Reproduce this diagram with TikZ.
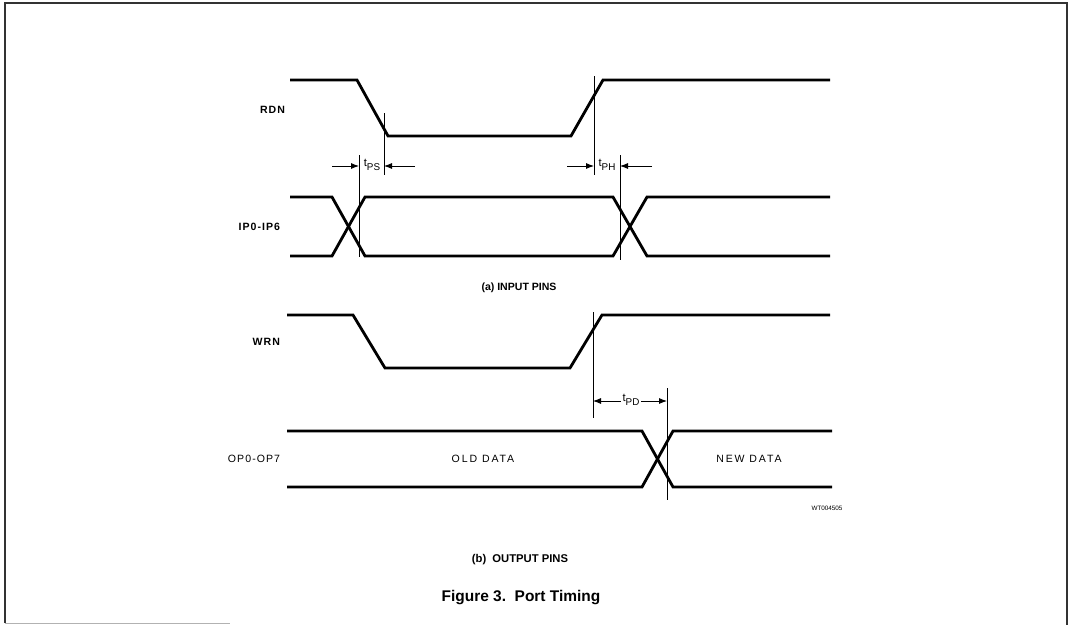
\documentclass[tikz,border=0pt]{standalone}
\usepackage{fontspec}
\setmainfont{Liberation Sans}
\usetikzlibrary{arrows.meta,positioning}

\begin{document}
\begin{tikzpicture}[
  x=0.025cm, y=-0.025cm,
  wave/.style={line width=2pt, line join=miter},
  guide/.style={line width=0.6pt},
  dim/.style={line width=0.6pt, ->},
  frameline/.style={line width=1pt, black!80},
  sig/.style={anchor=east, font=\fontsize{7.5}{8}\selectfont\bfseries\addfontfeature{LetterSpace=10}},
  data/.style={font=\fontsize{7.5}{8}\selectfont\addfontfeature{LetterSpace=18}, text depth=0pt},
  tlabel/.style={font=\fontsize{8}{8}\selectfont, inner sep=1pt},
  caption/.style={font=\fontsize{8}{9}\selectfont\bfseries},
  >={Latex[length=2mm, width=1.5mm]}
]
\useasboundingbox (0,0) rectangle (1068,625);

% frame
\draw[frameline] (5,623) -- (5,3) -- (1067,3) -- (1067,625);
\draw[line width=0.5pt, black!30] (5,623) -- (230,623);

% (a) input pins
\node[sig] (rdn) at (290,110) {RDN};
\node[sig] (ip) at (285,227) {IP0-IP6};
\draw[wave] (290,80) -- (357,80) -- (388,136) -- (571,136) -- (603,80) -- (830,80);
\draw[wave] (290,197) -- (332,197) -- (365,256) -- (613,256) -- (647,197) -- (830,197);
\draw[wave] (290,256) -- (332,256) -- (365,197) -- (613,197) -- (647,256) -- (830,256);

\draw[guide] (359,155) -- (359,257);
\draw[guide] (384,113) -- (384,175);
\draw[guide] (594,76) -- (594,175);
\draw[guide] (620,155) -- (620,260);

\coordinate (psl) at (359,166);
\coordinate (psr) at (384,166);
\coordinate (psa) at (332,166);
\coordinate (psb) at (415,166);
\draw[dim] (psa) -- (psl);
\draw[dim] (psb) -- (psr);
\node[tlabel] (tps) at (372,165) {t\raisebox{-0.6ex}{\scriptsize PS}};

\coordinate (phl) at (594,166);
\coordinate (phr) at (620,166);
\coordinate (pha) at (567,166);
\coordinate (phb) at (652,166);
\draw[dim] (pha) -- (phl);
\draw[dim] (phb) -- (phr);
\node[tlabel] (tph) at (607,165) {t\raisebox{-0.6ex}{\scriptsize PH}};

\node[caption, font=\fontsize{7.5}{8}\selectfont\bfseries] (capa) at (519,288) {(a) INPUT PINS};

% (b) output pins
\node[sig] (wrn) at (285,342) {WRN};
\node[sig, font=\fontsize{7.5}{8}\selectfont\addfontfeature{LetterSpace=10}] (op) at (285,459) {OP0-OP7};
\draw[wave] (287,315) -- (353,315) -- (385,368) -- (570,368) -- (602,315) -- (830,315);
\draw[wave] (287,431) -- (642,431) -- (673,487) -- (832,487);
\draw[wave] (287,487) -- (642,487) -- (673,431) -- (832,431);

\draw[guide] (593,312) -- (593,418);
\draw[guide] (667,388) -- (667,500);

\node[tlabel] (tpd) at (631,400) {t\raisebox{-0.6ex}{\scriptsize PD}};
\coordinate (pdl) at (593,401);
\coordinate (pdr) at (667,401);
\draw[dim] (tpd.west |- pdl) -- (pdl);
\draw[dim] (tpd.east |- pdr) -- (pdr);

\node[data] (old) at (483,459) {OLD DATA};
\node[data] (new) at (749,459) {NEW DATA};
\node[font=\fontsize{4.5}{5}\selectfont] (code) at (827,508) {WT004505};

\node[caption] (capb) at (520,560) {(b)\ \ OUTPUT PINS};
\node[caption, font=\fontsize{11}{12}\selectfont\bfseries] (fig) at (521,598) {Figure 3.\ \ Port Timing};
\end{tikzpicture}
\end{document}
